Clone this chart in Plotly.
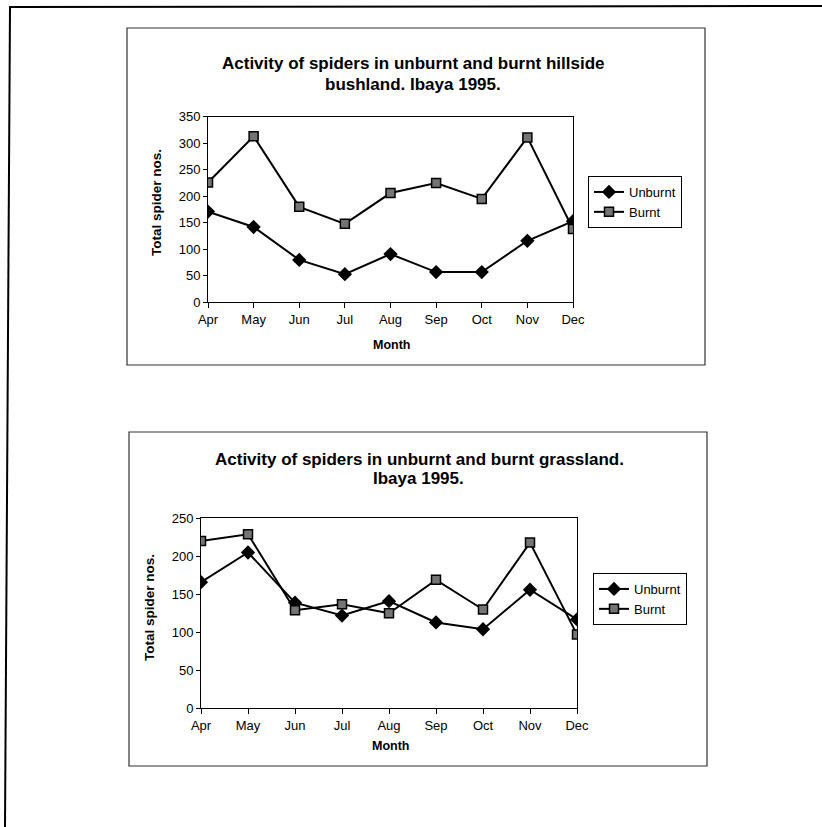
import plotly.graph_objects as go

# ---------------- data ----------------
months = ["Apr", "May", "Jun", "Jul", "Aug", "Sep", "Oct", "Nov", "Dec"]

hillside_unburnt = [171, 142, 80, 53, 91, 57, 57, 116, 153]
hillside_burnt = [226, 313, 180, 148, 206, 225, 195, 311, 138]

grass_unburnt = [166, 205, 139, 122, 141, 113, 104, 156, 117]
grass_burnt = [220, 229, 129, 137, 125, 169, 130, 218, 97]

top_title = ["Activity of spiders in unburnt and burnt hillside", "bushland. Ibaya 1995."]
bottom_title = ["Activity of spiders in unburnt and burnt grassland.", "Ibaya 1995."]
y_title = "Total spider nos."
x_title = "Month"
top_yticks = [0, 50, 100, 150, 200, 250, 300, 350]
bottom_yticks = [0, 50, 100, 150, 200, 250]

# ---------------- layout helpers ----------------
W, H = 822, 827
FONT = "Arial, Liberation Sans, sans-serif"


def px_x(v):
    return v / W


def px_y(v):
    return 1 - v / H


xidx = list(range(len(months)))

fig = go.Figure()


def add_series(xa, ya, unb, brn, legend):
    fig.add_trace(go.Scatter(
        x=xidx, y=unb, name="Unburnt", mode="lines+markers",
        xaxis=xa, yaxis=ya, legend=legend,
        line=dict(color="black", width=2),
        marker=dict(symbol="diamond", size=11, color="black"),
    ))
    fig.add_trace(go.Scatter(
        x=xidx, y=brn, name="Burnt", mode="lines+markers",
        xaxis=xa, yaxis=ya, legend=legend,
        line=dict(color="black", width=2),
        marker=dict(symbol="square", size=9, color="#747474",
                    line=dict(color="black", width=1.5)),
    ))


add_series("x", "y", hillside_unburnt, hillside_burnt, "legend")
add_series("x2", "y2", grass_unburnt, grass_burnt, "legend2")

tickfont = dict(family=FONT, size=13, color="black")


def xaxis_cfg(left, right):
    return dict(
        domain=[px_x(left), px_x(right)], range=[0, len(months) - 1],
        tickmode="array", tickvals=xidx, ticktext=months,
        ticks="outside", ticklen=5, tickcolor="black", tickwidth=1,
        showline=True, linecolor="black", linewidth=1, mirror=True,
        showgrid=False, zeroline=False, tickfont=tickfont, fixedrange=True,
        automargin=False,
    )


def yaxis_cfg(top, bottom, rng, vals, anchor):
    return dict(
        domain=[px_y(bottom), px_y(top)], range=rng,
        tickmode="array", tickvals=vals,
        ticks="outside", ticklen=4, tickcolor="black", tickwidth=1,
        showline=True, linecolor="black", linewidth=1, mirror=True,
        showgrid=False, zeroline=False, tickfont=tickfont, anchor=anchor,
        fixedrange=True, automargin=False,
    )


fig.update_layout(
    width=W, height=H,
    margin=dict(l=0, r=0, t=0, b=0, pad=0, autoexpand=False),
    paper_bgcolor="white", plot_bgcolor="white",
    font=dict(family=FONT, color="black"),
    xaxis=dict(xaxis_cfg(208, 573), anchor="y"),
    yaxis=yaxis_cfg(116.7, 302.3, [0, 350], top_yticks, "x"),
    xaxis2=dict(xaxis_cfg(201, 577), anchor="y2"),
    yaxis2=yaxis_cfg(518.3, 708.3, [0, 250], bottom_yticks, "x2"),
    legend=dict(x=px_x(588), y=px_y(176), xanchor="left", yanchor="top",
                bgcolor="white", bordercolor="black", borderwidth=1,
                font=dict(family=FONT, size=13, color="black"),
                tracegroupgap=0, itemwidth=30),
    legend2=dict(x=px_x(593), y=px_y(573), xanchor="left", yanchor="top",
                 bgcolor="white", bordercolor="black", borderwidth=1,
                 font=dict(family=FONT, size=13, color="black"),
                 tracegroupgap=0, itemwidth=30),
    showlegend=True,
)

# chart frames and page border
shapes = [
    dict(type="rect", xref="paper", yref="paper",
         x0=px_x(127), x1=px_x(705), y0=px_y(365), y1=px_y(28),
         line=dict(color="#333333", width=1.2)),
    dict(type="rect", xref="paper", yref="paper",
         x0=px_x(129), x1=px_x(707), y0=px_y(766), y1=px_y(432),
         line=dict(color="#333333", width=1.2)),
    dict(type="line", xref="paper", yref="paper",
         x0=px_x(9), x1=px_x(822), y0=px_y(7), y1=px_y(6),
         line=dict(color="black", width=2)),
    dict(type="line", xref="paper", yref="paper",
         x0=px_x(10), x1=px_x(5), y0=px_y(7), y1=px_y(827),
         line=dict(color="black", width=2)),
]
fig.update_layout(shapes=shapes)

ann = []


def text(x, y, s, size, bold=True, angle=0):
    ann.append(dict(
        x=px_x(x), y=px_y(y), xref="paper", yref="paper",
        text=f"<b>{s}</b>" if bold else s, showarrow=False,
        xanchor="center", yanchor="middle", textangle=angle,
        font=dict(family=FONT, size=size, color="black"),
    ))


text(413, 63, top_title[0], 17)
text(413, 84, top_title[1], 17)
text(419, 459, bottom_title[0], 17)
text(418, 478, bottom_title[1], 17)
text(157, 203, y_title, 13.5, angle=-90)
text(149, 608, y_title, 13.5, angle=-90)
text(391, 345, x_title, 12.5)
text(390, 746, x_title, 12.5)
fig.update_layout(annotations=ann)

fig.write_html("out.html")
